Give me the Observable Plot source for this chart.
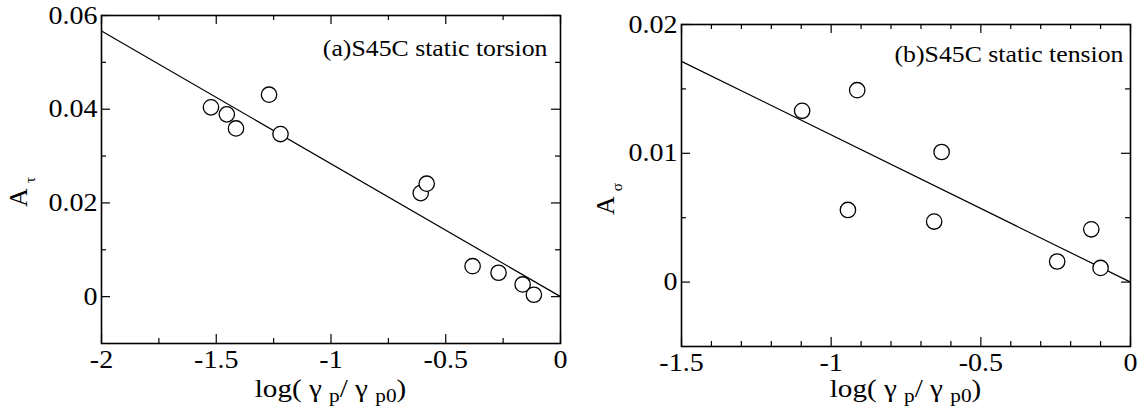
<!DOCTYPE html>
<html><head><meta charset="utf-8">
<script src="https://cdn.jsdelivr.net/npm/d3@7"></script>
<script src="https://cdn.jsdelivr.net/npm/@observablehq/plot@0.6"></script>
<style>
body{margin:0;background:#fff}
#wrap{position:relative;width:1144px;height:414px;overflow:hidden}
#wrap svg{position:absolute;top:0}
#wrap svg text{font-family:"Liberation Serif","Times New Roman",serif}
</style></head><body><div id="wrap"></div>
<script>
// (a) static torsion
const torsionX = [-1.523, -1.454, -1.414, -1.270, -1.220, -0.609, -0.583, -0.383, -0.270, -0.165, -0.116];
const torsionA = [0.0404, 0.0389, 0.0359, 0.0431, 0.0347, 0.0221, 0.0241, 0.0065, 0.0051, 0.0026, 0.0004];
const torsionFitX = [-2, 0];
const torsionFitA = [0.0567, 0];
const torsionXTicks = [-2, -1.5, -1, -0.5, 0];
const torsionXMinor = [-1.75, -1.25, -0.75, -0.25];
const torsionYTicks = [0, 0.02, 0.04, 0.06];
const torsionYMinor = [0.01, 0.03, 0.05];
// (b) static tension
const tensionX = [-1.097, -0.913, -0.944, -0.631, -0.656, -0.245, -0.131, -0.100];
const tensionA = [0.0133, 0.0149, 0.0056, 0.0101, 0.0047, 0.0016, 0.0041, 0.0011];
const tensionFitX = [-1.5, 0];
const tensionFitA = [0.01714, 0];
const tensionXTicks = [-1.5, -1, -0.5, 0];
const tensionXMinor = [-1.4, -1.3, -1.2, -1.1, -0.9, -0.8, -0.7, -0.6, -0.4, -0.3, -0.2, -0.1];
const tensionYTicks = [0, 0.01, 0.02];
const tensionYMinor = [0.005, 0.015];

const FONT = "Liberation Serif";
const FS = 25;        // tick labels
const LABEL_FS = 26;  // axis titles
const NOTE_FS = 23;   // panel annotation
const STRETCH = 1.12; // the reference lettering is slightly wide

function panel(o) {
  const W = 572, H = 414, m = o.margins;
  const fw = W - m.left - m.right, fh = H - m.top - m.bottom;
  const pts = o.xs.map((x, i) => ({x, y: o.ys[i]}));
  const fit = o.fitX.map((x, i) => ({x, y: o.fitY[i]}));
  const ts = {stroke: "black", strokeWidth: 1.2};
  const major = 9, minor = 5;
  const svg = Plot.plot({
    width: W, height: H,
    marginLeft: m.left, marginRight: m.right, marginTop: m.top, marginBottom: m.bottom,
    style: `font-family: 'Liberation Serif', serif; font-size: ${FS}px; color: black; background: white;`,
    x: {domain: o.xDomain},
    y: {domain: o.yDomain},
    marks: [
      Plot.tickX(o.xMajor, {x: d => d, insetTop: fh - major, ...ts}),
      Plot.tickX(o.xMajor, {x: d => d, insetBottom: fh - major, ...ts}),
      Plot.tickX(o.xMinor, {x: d => d, insetTop: fh - minor, ...ts}),
      Plot.tickX(o.xMinor, {x: d => d, insetBottom: fh - minor, ...ts}),
      Plot.tickY(o.yMajor, {y: d => d, insetRight: fw - major, ...ts}),
      Plot.tickY(o.yMajor, {y: d => d, insetLeft: fw - major, ...ts}),
      Plot.tickY(o.yMinor, {y: d => d, insetRight: fw - minor, ...ts}),
      Plot.tickY(o.yMinor, {y: d => d, insetLeft: fw - minor, ...ts}),
      Plot.line(fit, {x: "x", y: "y", stroke: "black", strokeWidth: 1.2}),
      Plot.dot(pts, {x: "x", y: "y", r: 7.7, stroke: "black", fill: "white", strokeWidth: 1.3}),
      Plot.frame({stroke: "black", strokeWidth: 1.6}),
      Plot.axisX(o.xMajor, {tickSize: 0, tickPadding: 7, tickFormat: d => String(d), label: null, fontSize: FS, fontFamily: FONT, fontVariant: "normal"}),
      Plot.axisY(o.yMajor, {tickSize: 0, tickPadding: 4, tickFormat: d => String(d), label: null, fontSize: FS, fontFamily: FONT, fontVariant: "normal"}),
      Plot.text([o.note], {frameAnchor: "top-right", dx: -o.noteDx, dy: o.noteDy, lineAnchor: "bottom", textAnchor: "end", fontSize: NOTE_FS, fontFamily: FONT})
    ]
  });
  const s = d3.select(svg);
  const xl = s.append("text").attr("x", m.left + fw / 2).attr("y", 397)
    .attr("text-anchor", "middle").attr("font-size", LABEL_FS).attr("font-family", FONT).attr("fill", "black");
  xl.append("tspan").text("log( γ ");
  xl.append("tspan").attr("font-size", 19).attr("dy", 5).text("p");
  xl.append("tspan").attr("dy", -5).text("/ γ ");
  xl.append("tspan").attr("font-size", 19).attr("dy", 5).text("p0");
  xl.append("tspan").attr("dy", -5).text(")");
  const yl = s.append("text").attr("transform", `translate(${o.yLabelX},${o.yLabelY}) rotate(-90)`)
    .attr("class", "nostretch")
    .attr("text-anchor", "middle").attr("font-size", LABEL_FS).attr("font-family", FONT).attr("fill", "black");
  yl.append("tspan").text("A ");
  yl.append("tspan").attr("font-size", 15).attr("dy", 8).text(o.sub);
  svg.style.left = o.left + "px";
  document.getElementById("wrap").appendChild(svg);
  svg.querySelectorAll("text").forEach(t => {
    if (t.classList.contains("nostretch")) return;
    const L = t.getComputedTextLength();
    if (L > 0) {
      t.setAttribute("textLength", L * STRETCH);
      t.setAttribute("lengthAdjust", "spacingAndGlyphs");
    }
  });
}

panel({
  xs: torsionX, ys: torsionA, fitX: torsionFitX, fitY: torsionFitA,
  xDomain: [-2, 0], yDomain: [-0.01, 0.06],
  xMajor: torsionXTicks, xMinor: torsionXMinor, yMajor: torsionYTicks, yMinor: torsionYMinor,
  note: "(a)S45C static torsion", noteDx: 13, noteDy: 40,
  margins: {left: 101, right: 12, top: 15, bottom: 71},
  sub: "τ", yLabelX: 27, yLabelY: 192, left: 0
});
panel({
  xs: tensionX, ys: tensionA, fitX: tensionFitX, fitY: tensionFitA,
  xDomain: [-1.5, 0], yDomain: [-0.005, 0.02],
  xMajor: tensionXTicks, xMinor: tensionXMinor, yMajor: tensionYTicks, yMinor: tensionYMinor,
  note: "(b)S45C static tension", noteDx: 7, noteDy: 37,
  margins: {left: 109, right: 14, top: 24, bottom: 68},
  sub: "σ", yLabelX: 42, yLabelY: 199, left: 572
});
</script></body></html>
